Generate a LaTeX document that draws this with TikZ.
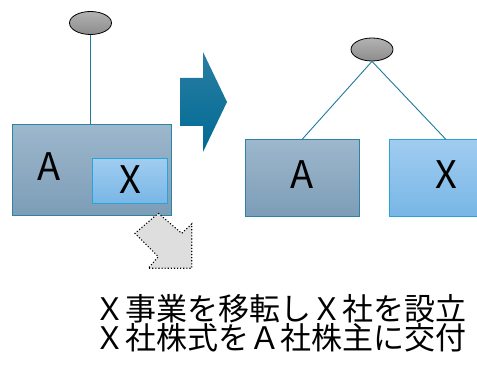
\documentclass[tikz,border=0pt]{standalone}
\usepackage{fontspec}
\newfontfamily\jp{Noto Sans CJK JP}
\usetikzlibrary{shapes.geometric}
\definecolor{lineblue}{HTML}{1F7A9C}
\definecolor{boxAtop}{HTML}{9DB7CC}
\definecolor{boxAbot}{HTML}{7C9DB7}
\definecolor{boxAedge}{HTML}{2C83A6}
\definecolor{boxXtop}{HTML}{A0CCF0}
\definecolor{boxXbot}{HTML}{78B6E6}
\definecolor{boxXedge}{HTML}{2BA3D6}
\definecolor{arrtop}{HTML}{2A7DA2}
\definecolor{arrbot}{HTML}{006B94}
\tikzset{
  owner/.style={ellipse, draw=black, line width=0.8pt, top color=gray!60, bottom color=gray!110!black, minimum width=42pt, minimum height=23pt, inner sep=0pt},
  abox/.style={draw=boxAedge, line width=1pt, top color=boxAtop, bottom color=boxAbot, inner sep=0pt},
  xbox/.style={draw=boxXedge, line width=1pt, top color=boxXtop, bottom color=boxXbot, inner sep=0pt},
  lbl/.style={font=\jp\fontsize{38}{38}\selectfont, inner sep=0pt, text=black},
  link/.style={draw=lineblue, line width=0.9pt},
  caption/.style={anchor=west, inner sep=0pt, font=\jp\fontsize{31}{34}\selectfont},
}
\begin{document}
\begin{tikzpicture}[x=1pt,y=-1pt]
\clip (0,0) rectangle (477,366);
% left
\node[owner] (o1) at (90.5,23) {};
\node[abox, minimum width=159pt, minimum height=91pt] (a1) at (91.5,170.5) {};
\node[xbox, minimum width=75pt, minimum height=45pt] (x1) at (129.5,181.5) {};
\draw[link] (o1.south) -- (o1.south |- a1.north);
\node[lbl] (la1) at (49,167) {A};
\node[lbl] (lx1) at (130,180) {X};
% big arrow
\shade[top color=arrtop, bottom color=arrbot] (180,78) -- (203,78) -- (203,52) -- (227,102) -- (203,152) -- (203,126) -- (180,126) -- cycle;
% right
\node[owner] (o2) at (372,49.5) {};
\node[abox, minimum width=114pt, minimum height=77pt] (a2) at (302,178.5) {};
\node[xbox, minimum width=114pt, minimum height=77pt] (x2) at (446,178.5) {};
\draw[link] (o2.south) -- (a2.north);
\draw[link] (o2.south) -- (x2.north);
\node[lbl] (la2) at (302,175) {A};
\node[lbl] (lx2) at (446,175) {X};
% dotted arrow
\draw[fill=black!13, draw=black, line width=1.1pt, dotted] (158.3,213.3) -- (181.7,233.3) -- (191.7,224) -- (191.7,268.3) -- (148.3,268.3) -- (158.3,256.7) -- (135,233.3) -- cycle;
% text
\node[caption] (t1) at (94,309) {Ｘ事業を移転しＸ社を設立};
\node[caption] (t2) at (94,338) {Ｘ社株式をＡ社株主に交付};
\end{tikzpicture}
\end{document}
